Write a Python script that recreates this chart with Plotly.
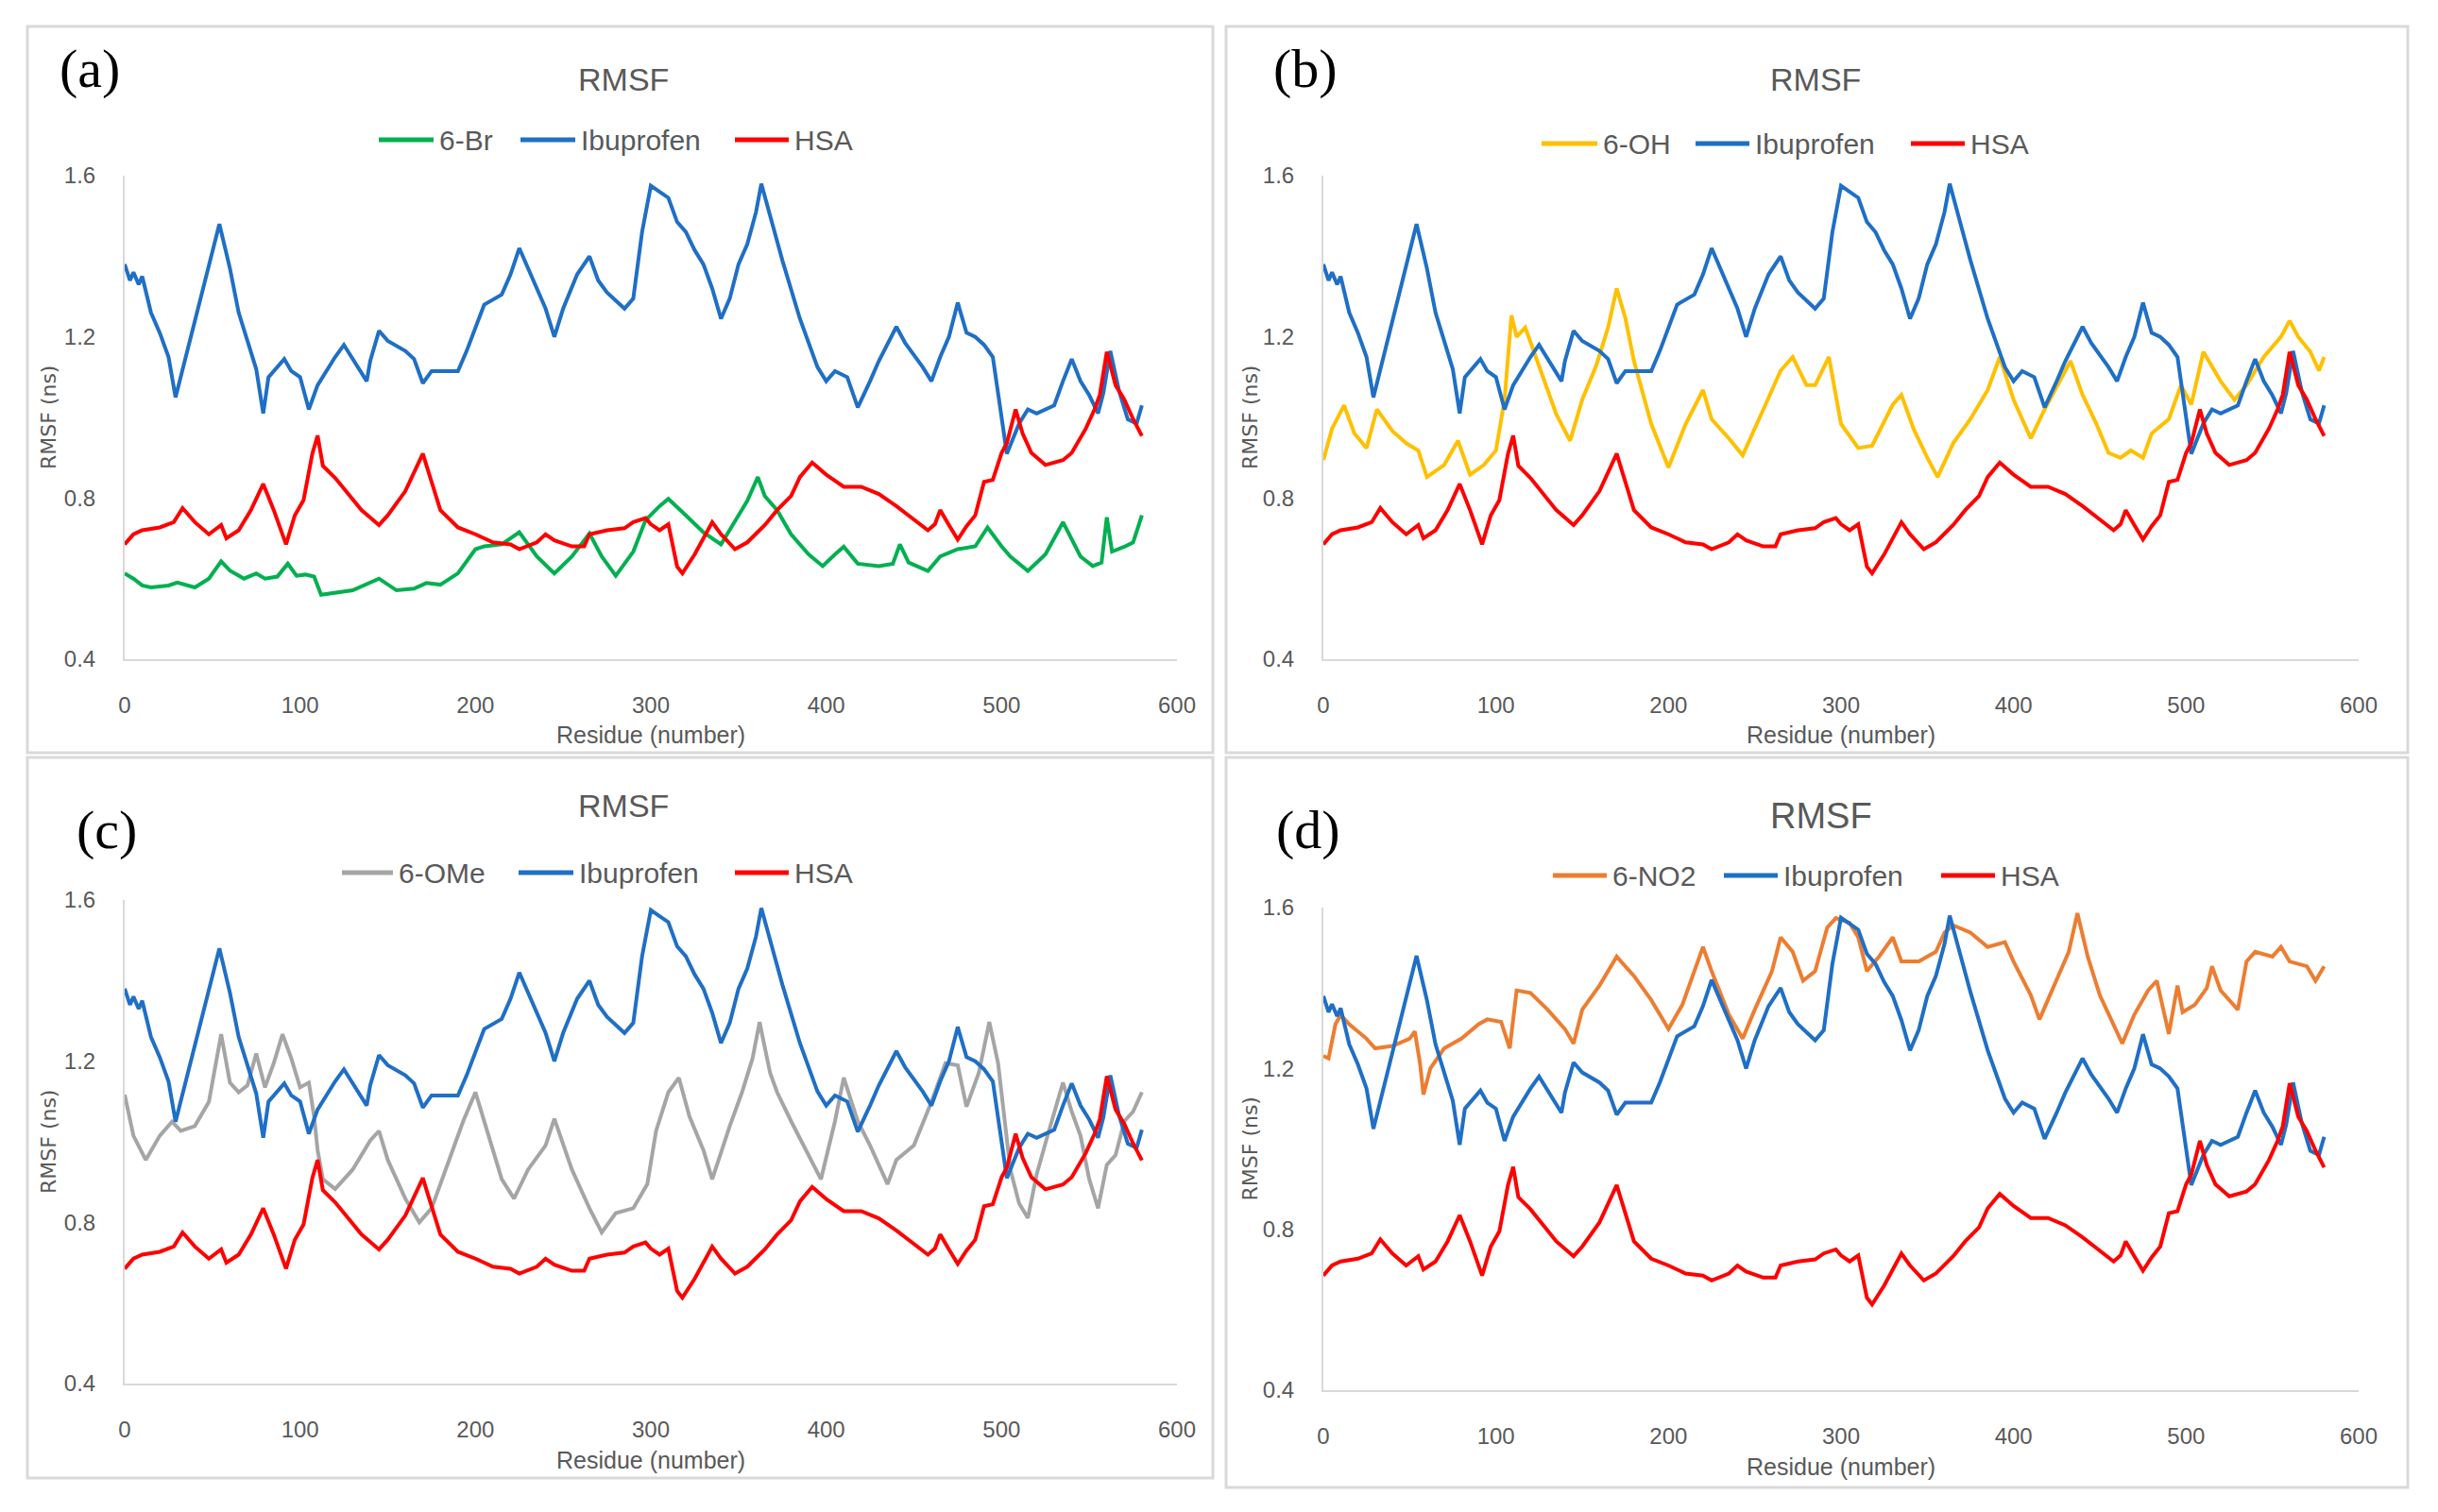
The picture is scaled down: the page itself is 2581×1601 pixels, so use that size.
import plotly.graph_objects as go

# ---------------- data ----------------
IBU_X = [0, 3, 5, 8, 10, 15, 20, 25, 29, 54,
         60, 65, 70, 75, 79, 82, 91, 95, 100, 105,
         110, 120, 125, 130, 138, 140, 145, 150, 160, 165,
         170, 175, 190, 195, 200, 205, 215, 220, 225, 230,
         240, 245, 250, 258, 265, 270, 275, 285, 290, 295,
         300, 305, 310, 315, 320, 325, 330, 335, 340, 345,
         350, 355, 360, 363, 368, 375, 385, 395, 400, 405,
         412, 418, 425, 430, 440, 445, 455, 460, 465, 470,
         475, 480, 485, 490, 495, 500, 503, 510, 515, 520,
         530, 535, 540, 545, 550, 555, 558, 562, 567, 572,
         577, 580]
IBU_Y = [1.38, 1.34, 1.36, 1.33, 1.35, 1.26, 1.21, 1.15, 1.05, 1.48,
         1.37, 1.26, 1.19, 1.12, 1.01, 1.10, 1.145, 1.115, 1.10, 1.02,
         1.08, 1.15, 1.18, 1.145, 1.09, 1.14, 1.215, 1.19, 1.165, 1.145,
         1.085, 1.115, 1.115, 1.165, 1.22, 1.28, 1.305, 1.355, 1.42, 1.37,
         1.27, 1.20, 1.27, 1.355, 1.40, 1.34, 1.31, 1.27, 1.295, 1.46,
         1.575, 1.56, 1.545, 1.485, 1.46, 1.415, 1.38, 1.32, 1.245, 1.295,
         1.38, 1.43, 1.51, 1.58, 1.50, 1.39, 1.245, 1.125, 1.09, 1.115,
         1.10, 1.025, 1.09, 1.14, 1.225, 1.185, 1.125, 1.09, 1.15, 1.20,
         1.285, 1.21, 1.20, 1.18, 1.15, 1.00, 0.91, 0.985, 1.02, 1.01,
         1.03, 1.09, 1.145, 1.09, 1.055, 1.01, 1.06, 1.165, 1.065, 0.995,
         0.985, 1.03]

HSA_X = [0, 5, 10, 20, 28, 33, 40, 48, 55, 58,
         65, 72, 79, 85, 92, 97, 102, 107, 110, 113,
         120, 130, 135, 145, 150, 160, 170, 175, 180, 190,
         200, 210, 220, 225, 235, 240, 245, 255, 262, 265,
         275, 285, 290, 297, 300, 305, 310, 315, 318, 325,
         335, 340, 348, 355, 360, 365, 372, 380, 385, 392,
         400, 410, 420, 430, 440, 450, 458, 462, 465, 470,
         475, 480, 485, 490, 495, 500, 503, 508, 512, 517,
         525, 535, 540, 548, 553, 556, 560, 565, 570, 575,
         580]
HSA_Y = [0.685, 0.71, 0.72, 0.727, 0.74, 0.775, 0.74, 0.71, 0.733, 0.70,
         0.72, 0.77, 0.835, 0.77, 0.685, 0.757, 0.795, 0.91, 0.955, 0.88,
         0.85, 0.795, 0.77, 0.733, 0.757, 0.817, 0.91, 0.84, 0.77, 0.727,
         0.71, 0.69, 0.685, 0.673, 0.69, 0.71, 0.695, 0.68, 0.68, 0.71,
         0.72, 0.725, 0.74, 0.75, 0.735, 0.72, 0.735, 0.63, 0.613, 0.66,
         0.74, 0.71, 0.673, 0.69, 0.71, 0.733, 0.77, 0.805, 0.852, 0.888,
         0.858, 0.828, 0.828, 0.81, 0.78, 0.745, 0.72, 0.735, 0.77, 0.733,
         0.697, 0.73, 0.757, 0.84, 0.845, 0.912, 0.936, 1.02, 0.96, 0.912,
         0.882, 0.894, 0.912, 0.972, 1.02, 1.056, 1.163, 1.08, 1.044, 0.996,
         0.954]

BR_X = [0, 5, 10, 15, 25, 30, 40, 48, 55, 60,
        68, 75, 80, 87, 93, 98, 103, 108, 112, 120,
        130, 145, 155, 165, 172, 180, 190, 200, 205, 215,
        225, 235, 245, 255, 265, 272, 280, 290, 297, 305,
        310, 320, 330, 340, 348, 355, 361, 365, 372, 380,
        390, 398, 405, 410, 418, 430, 438, 442, 447, 458,
        465, 475, 485, 492, 500, 505, 515, 525, 535, 545,
        552, 557, 560, 563, 570, 575, 580]
BR_Y = [0.613, 0.60, 0.583, 0.578, 0.583, 0.59, 0.578, 0.60, 0.643, 0.62,
        0.60, 0.613, 0.60, 0.605, 0.637, 0.607, 0.61, 0.605, 0.56, 0.565,
        0.571, 0.60, 0.571, 0.575, 0.589, 0.585, 0.613, 0.673, 0.68, 0.685,
        0.715, 0.655, 0.613, 0.655, 0.712, 0.655, 0.607, 0.667, 0.745, 0.78,
        0.798, 0.757, 0.715, 0.685, 0.745, 0.793, 0.852, 0.805, 0.77, 0.71,
        0.66, 0.631, 0.66, 0.679, 0.637, 0.631, 0.637, 0.685, 0.64, 0.619,
        0.655, 0.673, 0.68, 0.727, 0.68, 0.655, 0.619, 0.66, 0.74, 0.655,
        0.631, 0.64, 0.752, 0.667, 0.679, 0.69, 0.757]

OH_X = [0, 5, 12, 18, 25, 31, 40, 48, 55, 60,
        70, 78, 85, 93, 100, 105, 109, 112, 117, 125,
        135, 143, 150, 158, 165, 170, 175, 180, 190, 200,
        210, 220, 225, 235, 243, 255, 265, 272, 280, 285,
        293, 300, 310, 318, 330, 335, 342, 350, 356, 365,
        375, 385, 392, 400, 410, 418, 428, 433, 440, 448,
        455, 462, 468, 475, 480, 490, 497, 503, 510, 520,
        528, 535, 545, 555, 560, 565, 572, 577, 580]
OH_Y = [0.894, 0.972, 1.03, 0.96, 0.924, 1.02, 0.966, 0.936, 0.918, 0.852,
        0.882, 0.942, 0.858, 0.882, 0.918, 1.044, 1.253, 1.20, 1.223, 1.127,
        1.008, 0.942, 1.044, 1.127, 1.223, 1.32, 1.247, 1.14, 0.984, 0.876,
        0.984, 1.068, 0.996, 0.948, 0.906, 1.02, 1.116, 1.15, 1.08, 1.08,
        1.15, 0.984, 0.924, 0.93, 1.032, 1.056, 0.972, 0.90, 0.852, 0.936,
        0.996, 1.068, 1.15, 1.044, 0.948, 1.02, 1.103, 1.14, 1.056, 0.984,
        0.912, 0.90, 0.918, 0.90, 0.96, 0.996, 1.08, 1.032, 1.163, 1.09,
        1.044, 1.08, 1.15, 1.20, 1.24, 1.20, 1.163, 1.116, 1.15]

OME_X = [0, 5, 12, 20, 27, 32, 40, 48, 55, 60,
         65, 70, 75, 80, 85, 90, 95, 100, 105, 108,
         110, 113, 120, 130, 140, 145, 150, 160, 168, 175,
         185, 193, 200, 205, 215, 222, 230, 240, 245, 255,
         265, 272, 280, 290, 298, 303, 310, 316, 322, 330,
         335, 345, 352, 358, 362, 368, 372, 380, 390, 397,
         405, 410, 418, 425, 435, 440, 450, 460, 468, 475,
         480, 487, 493, 498, 505, 510, 515, 520, 527, 535,
         540, 545, 550, 555, 560, 565, 570, 575, 580]
OME_Y = [1.117, 1.015, 0.955, 1.015, 1.05, 1.027, 1.039, 1.099, 1.267, 1.147,
         1.123, 1.14, 1.219, 1.135, 1.195, 1.267, 1.207, 1.135, 1.147, 1.063,
         0.979, 0.907, 0.883, 0.931, 1.003, 1.027, 0.955, 0.859, 0.80, 0.835,
         0.955, 1.051, 1.123, 1.051, 0.907, 0.859, 0.931, 0.991, 1.057, 0.931,
         0.835, 0.775, 0.823, 0.835, 0.895, 1.027, 1.123, 1.159, 1.063, 0.979,
         0.907, 1.039, 1.123, 1.207, 1.297, 1.171, 1.123, 1.051, 0.967, 0.907,
         1.051, 1.159, 1.051, 0.991, 0.895, 0.955, 0.991, 1.099, 1.195, 1.19,
         1.087, 1.171, 1.297, 1.195, 0.931, 0.847, 0.811, 0.919, 1.027, 1.147,
         1.075, 1.015, 0.907, 0.835, 0.943, 0.967, 1.051, 1.075, 1.123]

NO2_X = [0, 3, 7, 10, 15, 25, 30, 40, 50, 53,
         56, 58, 62, 70, 80, 90, 95, 103, 108, 112,
         120, 130, 140, 145, 150, 160, 170, 180, 190, 200,
         208, 215, 220, 225, 235, 243, 250, 260, 265, 272,
         278, 285, 292, 297, 305, 310, 315, 322, 330, 335,
         345, 355, 360, 365, 375, 385, 395, 400, 410, 415,
         425, 432, 437, 443, 450, 460, 463, 470, 478, 483,
         487, 490, 495, 498, 505, 512, 515, 520, 530, 535,
         540, 550, 555, 560, 570, 575, 580]
NO2_Y = [1.231, 1.225, 1.31, 1.333, 1.31, 1.274, 1.25, 1.256, 1.274, 1.292,
         1.213, 1.135, 1.20, 1.25, 1.274, 1.31, 1.322, 1.316, 1.25, 1.394,
         1.388, 1.346, 1.298, 1.262, 1.346, 1.406, 1.478, 1.43, 1.37, 1.298,
         1.358, 1.442, 1.502, 1.442, 1.334, 1.274, 1.346, 1.442, 1.526, 1.49,
         1.418, 1.442, 1.55, 1.574, 1.562, 1.526, 1.442, 1.478, 1.526, 1.466,
         1.466, 1.49, 1.538, 1.556, 1.538, 1.502, 1.514, 1.466, 1.382, 1.322,
         1.418, 1.49, 1.586, 1.478, 1.382, 1.286, 1.262, 1.334, 1.394, 1.418,
         1.34, 1.286, 1.406, 1.34, 1.358, 1.40, 1.454, 1.394, 1.346, 1.466,
         1.49, 1.478, 1.502, 1.466, 1.454, 1.418, 1.454]

PANEL_LABELS = ["(a)", "(b)", "(c)", "(d)"]
COMPOUNDS = ["6-Br", "6-OH", "6-OMe", "6-NO2"]
Y_TICKS = [0.4, 0.8, 1.2, 1.6]
X_TICKS = [0, 100, 200, 300, 400, 500, 600]

# ---------------- layout helpers ----------------
W, H = 2581, 1601
OFF = 8                      # page body margin of the html page
FW, FH = W - 2 * OFF, H - 2 * OFF
def px(x): return (x - OFF) / FW
def py(y): return 1 - (y - OFF) / FH

COL_IBU = "#1F6FC6"
COL_HSA = "#FF0000"
COMP_COLORS = ["#00B050", "#FFC000", "#A5A5A5", "#ED7D31"]
comp_data = [(BR_X, BR_Y), (OH_X, OH_Y), (OME_X, OME_Y), (NO2_X, NO2_Y)]

# plot area pixel boxes: (left, right, top, bottom)
boxes = [(132, 1246, 186, 698), (1401, 2497, 186, 698),
         (132, 1246, 953, 1465), (1401, 2497, 961, 1472)]
frames = [(29, 28, 1284, 797), (1298, 28, 2549, 797),
          (29, 802, 1284, 1565), (1298, 802, 2549, 1575)]
# legend: y, then for each of the 3 entries (line start, line end, text start)
legend_rows = [
    (148, [(401, 459, 463), (551, 609, 613), (778, 835, 839)]),
    (152, [(1632, 1691, 1695), (1795, 1852, 1856), (2023, 2080, 2084)]),
    (924, [(362, 416, 420), (549, 607, 611), (778, 835, 839)]),
    (927, [(1644, 1701, 1705), (1825, 1882, 1886), (2055, 2112, 2116)]),
]
title_pos = [(660, 84, 34), (1922, 84, 34), (660, 853, 34), (1928, 864, 38)]
label_pos = [(95, 72), (1382, 73), (113, 879), (1385, 879)]
xtitle_y = [778, 778, 1546, 1553]
ytitle_x = [51, 1323, 51, 1323]

FONT = "Liberation Sans, Arial, sans-serif"
GREY = "#595959"

fig = go.Figure()
layout = dict(template="none", width=FW, height=FH,
              margin=dict(l=0, r=0, t=0, b=0, pad=0, autoexpand=False),
              paper_bgcolor="white", plot_bgcolor="white", showlegend=False)
annotations = []
shapes = []

for i in range(4):
    n = "" if i == 0 else str(i + 1)
    xa, ya = "x" + n, "y" + n
    L, R, T, B = boxes[i]
    cx, cy = comp_data[i]
    names = [COMPOUNDS[i], "Ibuprofen", "HSA"]
    colors = [COMP_COLORS[i], COL_IBU, COL_HSA]
    for (sx, sy), nm, col in zip([(cx, cy), (IBU_X, IBU_Y), (HSA_X, HSA_Y)], names, colors):
        fig.add_trace(go.Scatter(x=sx, y=sy, mode="lines", name=nm,
                                 line=dict(color=col, width=4),
                                 xaxis=xa, yaxis=ya))
    layout["xaxis" + n] = dict(domain=[px(L), px(R)], range=[0, 600],
                               tickvals=X_TICKS, showgrid=False, zeroline=False,
                               showline=True, linecolor="#D9D9D9", linewidth=2,
                               ticks="", ticklabelstandoff=26, automargin=False,
                               tickfont=dict(family=FONT, size=24, color=GREY),
                               anchor=ya, fixedrange=True)
    layout["yaxis" + n] = dict(domain=[py(B), py(T)], range=[0.4, 1.6],
                               tickvals=Y_TICKS, tickformat=".1f", showgrid=False,
                               zeroline=False, showline=True, linecolor="#D9D9D9",
                               linewidth=2, ticks="", ticklabelstandoff=24,
                               automargin=False,
                               tickfont=dict(family=FONT, size=24, color=GREY),
                               anchor=xa, fixedrange=True)
    # legend drawn as line samples + text
    ly, entries = legend_rows[i]
    for (l0, l1, t0), nm, col in zip(entries, names, colors):
        shapes.append(dict(type="line", xref="paper", yref="paper",
                           x0=px(l0), x1=px(l1), y0=py(ly), y1=py(ly),
                           line=dict(color=col, width=5)))
        annotations.append(dict(text=nm, x=px(t0), y=py(ly), xref="paper", yref="paper",
                                showarrow=False, xanchor="left", yanchor="middle",
                                font=dict(family=FONT, size=30, color=GREY)))
    tx, ty, ts = title_pos[i]
    annotations.append(dict(text="RMSF", x=px(tx), y=py(ty), xref="paper", yref="paper",
                            showarrow=False, xanchor="center", yanchor="middle",
                            font=dict(family=FONT, size=ts, color=GREY)))
    lbx, lby = label_pos[i]
    annotations.append(dict(text=PANEL_LABELS[i], x=px(lbx), y=py(lby), xref="paper",
                            yref="paper", showarrow=False, xanchor="center",
                            yanchor="middle",
                            font=dict(family="Liberation Serif, DejaVu Serif, serif",
                                      size=58, color="black")))
    annotations.append(dict(text="Residue (number)", x=px((L + R) / 2), y=py(xtitle_y[i]),
                            xref="paper", yref="paper", showarrow=False,
                            xanchor="center", yanchor="middle",
                            font=dict(family=FONT, size=25, color=GREY)))
    annotations.append(dict(text="RMSF (ns)", x=px(ytitle_x[i]), y=py((T + B) / 2),
                            xref="paper", yref="paper", showarrow=False, textangle=-90,
                            xanchor="center", yanchor="middle",
                            font=dict(family="DejaVu Sans, sans-serif", size=22, color=GREY)))
    fx0, fy0, fx1, fy1 = frames[i]
    shapes.append(dict(type="rect", xref="paper", yref="paper",
                       x0=px(fx0), y0=py(fy0), x1=px(fx1), y1=py(fy1),
                       line=dict(color="#D9D9D9", width=3), layer="below"))

layout["annotations"] = annotations
layout["shapes"] = shapes
fig.update_layout(**layout)
fig.write_html("out.html")
